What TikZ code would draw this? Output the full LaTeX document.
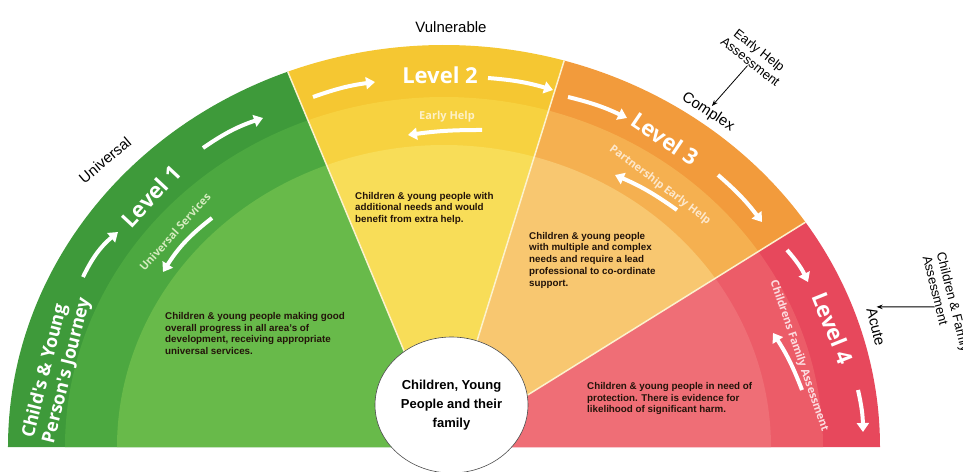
\documentclass[tikz,border=0pt]{standalone}
\usepackage{fontspec}
\setmainfont{Liberation Sans}
\newfontfamily\levelfont{Open Sans}
\usetikzlibrary{arrows.meta,shapes.geometric}

\definecolor{green1}{RGB}{62,154,58}
\definecolor{green2}{RGB}{76,168,64}
\definecolor{green3}{RGB}{104,186,74}
\definecolor{yellow1}{RGB}{245,199,50}
\definecolor{yellow2}{RGB}{247,210,64}
\definecolor{yellow3}{RGB}{248,221,88}
\definecolor{orange1}{RGB}{242,155,60}
\definecolor{orange2}{RGB}{245,176,80}
\definecolor{orange3}{RGB}{248,199,112}
\definecolor{red1}{RGB}{231,72,92}
\definecolor{red2}{RGB}{236,92,104}
\definecolor{red3}{RGB}{239,110,118}
\definecolor{bodyink}{RGB}{35,20,10}
\definecolor{seam}{RGB}{252,242,205}

% one slice of the fan: colour, from, to, x radius, y radius
\newcommand{\fanpart}[5]{\fill[#1] (0,0) -- (#2:#4pt and #5pt) arc[start angle=#2,end angle=#3,x radius=#4pt,y radius=#5pt] -- cycle;}

\tikzset{
  levelname/.style={font=\levelfont\bfseries\fontsize{22}{24}\selectfont, text=white, inner sep=0pt},
  subname/.style={font=\levelfont\bfseries\fontsize{11}{13}\selectfont, inner sep=0pt},
  bodytext/.style={font=\bfseries\fontsize{9.8}{11.7}\selectfont, align=left, anchor=north west, text=bodyink, inner sep=0pt},
  outlabel/.style={font=\fontsize{15}{17}\selectfont, inner sep=0pt},
  outpair/.style={font=\fontsize{13}{14.5}\selectfont, inner sep=0pt},
  flow/.style={white, line width=4pt, -{Triangle[length=9pt,width=12pt]}},
  pointer/.style={black, line width=0.8pt, -{Stealth[length=6pt]}},
}

\begin{document}
\begin{tikzpicture}[x=1pt,y=1pt]
\useasboundingbox (-444,-24) rectangle (519,447);
\clip (-444,-24) rectangle (519,447);

% outer band
\fanpart{green1}{180}{111}{436}{402}
\fanpart{yellow1}{111}{74}{436}{402}
\fanpart{orange1}{74}{34}{436}{402}
\fanpart{red1}{34}{0}{436}{402}
% middle band
\fanpart{green2}{180}{111}{379}{350}
\fanpart{yellow2}{111}{74}{379}{350}
\fanpart{orange2}{74}{34}{379}{350}
\fanpart{red2}{34}{0}{379}{350}
% inner part
\fanpart{green3}{180}{111}{327}{302}
\fanpart{yellow3}{111}{74}{327}{302}
\fanpart{orange3}{74}{34}{327}{302}
\fanpart{red3}{34}{0}{327}{302}

% seams
\draw[seam, line width=1.5pt] (0,0) -- (111:436pt and 402pt);
\draw[seam, line width=1.5pt] (0,0) -- (74:436pt and 402pt);
\draw[seam, line width=1.5pt] (0,0) -- (34:436pt and 402pt);

% centre
\node[ellipse, draw=black!70, line width=0.6pt, fill=white, minimum width=153pt, minimum height=136pt, align=center,
  font=\bfseries\fontsize{13}{19}\selectfont] (family) at (7.5,42) {Children, Young\\People and their\\family};

% level names
\node[levelname, rotate=47] (lvl1) at (-293,251) {Level 1};
\node[levelname] (lvl2) at (-4,372) {Level 2};
\node[levelname, rotate=-34] (lvl3) at (221,308) {Level 3};
\node[levelname, rotate=-68] (lvl4) at (389,119) {Level 4};

\node[subname, text={rgb,255:red,212;green,236;blue,190}, rotate=48] (sub1) at (-269,215) {Universal Services};
\node[subname, text={rgb,255:red,253;green,241;blue,200}] (sub2) at (3,330) {Early Help};
\node[subname, text={rgb,255:red,253;green,232;blue,204}, rotate=-37] (sub3) at (216,262) {Partnership Early Help};
\node[subname, text={rgb,255:red,252;green,220;blue,224}, rotate=-71] (sub4) at (355,91) {Childrens Family Assessment};

\node[font=\levelfont\bfseries\fontsize{18}{21}\selectfont, text=white, align=left, rotate=76, inner sep=0pt]
  (journey) at (-387,79) {Child's \& Young\\Person's Journey};

% flow arrows
\draw[flow] (-361,170) to[bend left=12] (-326,215);
\draw[flow] (-241,299) to[bend left=8] (-181,329);
\draw[flow] (-232,229) to[bend right=10] (-281,175);
\draw[flow] (-131,350) to[bend left=6] (-69,365);
\draw[flow] (44,369) to[bend left=6] (109,357);
\draw[flow] (38,317) to[bend right=4] (-36,312);
\draw[flow] (124,350) to[bend left=6] (183,329);
\draw[flow] (274,272) to[bend left=6] (318,225);
\draw[flow] (233,237) to[bend right=6] (171,272);
\draw[flow] (343,197) to[bend left=8] (364,165);
\draw[flow] (414,57) to[bend left=6] (419,15);
\draw[flow] (358,57) to[bend right=6] (329,114);

% descriptions
\node[bodytext] (txt1) at (-279,135) {Children \& young people making good\\overall progress in all area's of\\development, receiving appropriate\\universal services.};
\node[bodytext] (txt2) at (-89,255) {Children \& young people with\\additional needs and would\\benefit from extra help.};
\node[bodytext] (txt3) at (85,215) {Children \& young people\\with multiple and complex\\needs and require a lead\\professional to co-ordinate\\support.};
\node[bodytext] (txt4) at (143,65) {Children \& young people in need of\\protection. There is evidence for\\likelihood of significant harm.};

% labels round the fan
\node[outlabel, rotate=40] (universal) at (-339,287) {Universal};
\node[outlabel] (vulnerable) at (7,420) {Vulnerable};
\node[outlabel, rotate=-33] (complexlbl) at (264,335) {Complex};
\node[outlabel, rotate=-76] (acutelbl) at (432,120) {Acute};
\node[outpair, align=center, rotate=-38] (eha) at (311,391) {Early Help\\Assessment};
\node[outpair, align=left, rotate=-76, anchor=north west] (cfa) at (502,196) {Children \& Family\\Assessment};

\draw[pointer] (eha.south) -- (complexlbl.north);
\draw[pointer] (cfa.south) -- (acutelbl.north west);
\end{tikzpicture}
\end{document}
